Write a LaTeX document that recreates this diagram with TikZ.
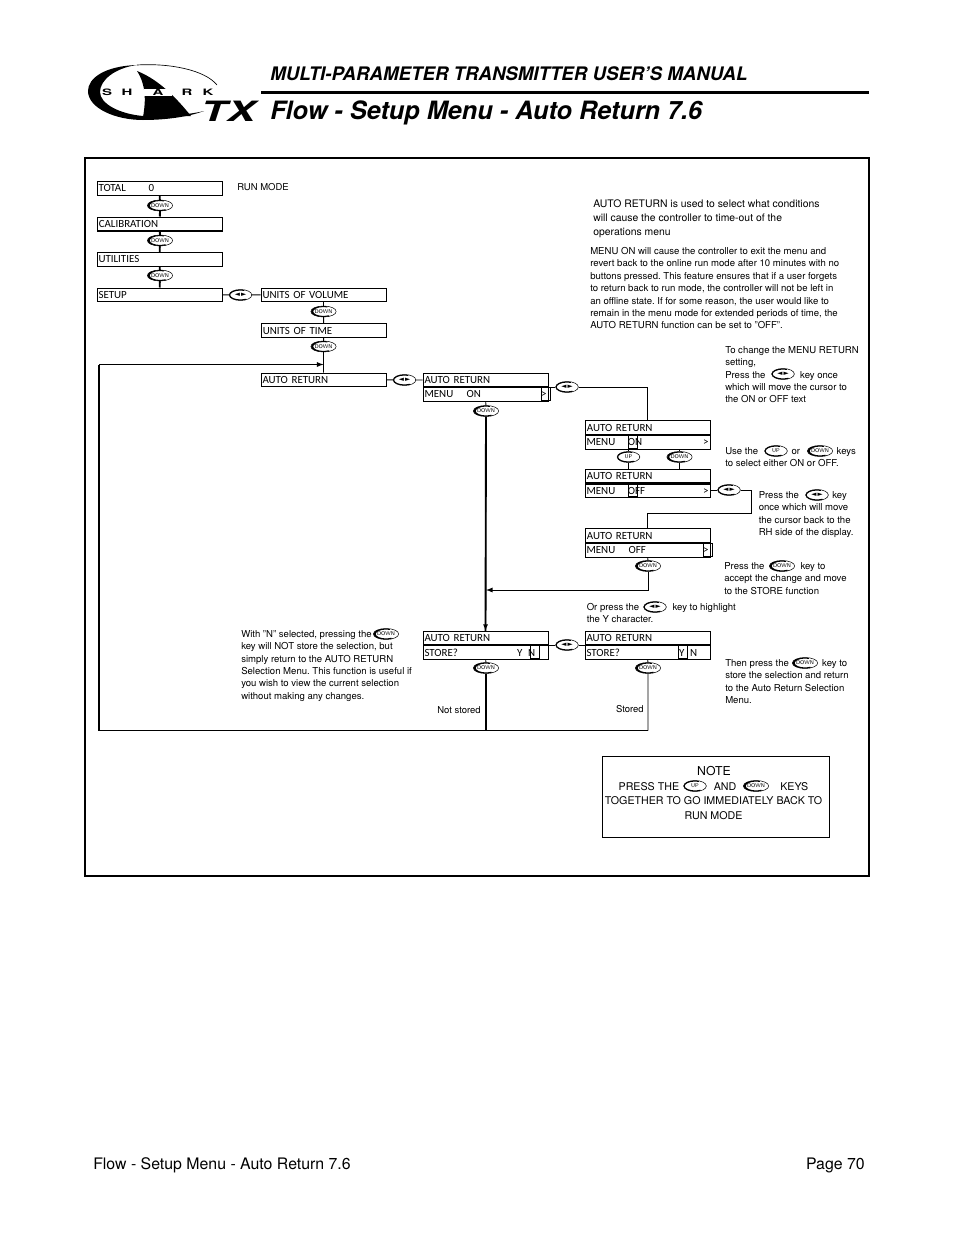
\documentclass[tikz,border=0pt]{standalone}
\usepackage{fontspec}
\setmainfont{TeX Gyre Heros}
\newfontfamily\boxfamily{Carlito}
\newfontfamily\symfamily{DejaVu Sans}
\usetikzlibrary{shapes.geometric, arrows, positioning}

\newcommand{\rowfont}{\fontsize{8.2}{8}\selectfont\boxfamily\setlength{\spaceskip}{0.14em}}

\tikzset{
  rowbox/.style={draw, fill=white, line width=0.6pt, anchor=north west, inner xsep=1.2pt, inner ysep=0pt,
    text width=91.5pt, minimum height=10.2pt, text height=6.8pt, text depth=1.3pt, font=\rowfont},
  heavybox/.style={rowbox, line width=1.1pt},
  cursorbox/.style={draw, line width=0.8pt, anchor=north west, inner sep=0pt, minimum width=6.8pt, minimum height=10pt},
  keynode/.style={ellipse, draw, fill=white, line width=0.4pt, inner sep=0pt, minimum width=17pt, minimum height=8.2pt,
    font=\fontsize{4.1}{4}\selectfont\sffamily,
    path picture={\draw[line width=1.5pt] (path picture bounding box.center) ++(70:8.5pt and 4.1pt) arc[start angle=70, end angle=300, x radius=8.5pt, y radius=4.1pt];}},
  arrowkey/.style={keynode, font=\fontsize{5}{5}\selectfont\symfamily},
  link/.style={line width=0.7pt},
  mainlink/.style={line width=1.4pt},
  helptext/.style={anchor=north west, inner sep=0pt, align=left, font=\fontsize{7.17}{9.3}\selectfont\frenchspacing},
  plaintext/.style={inner sep=0pt, font=\fontsize{7.1}{9}\selectfont},
  logoletter/.style={inner sep=0pt, font=\fontsize{6.6}{7}\selectfont\bfseries},
}

\begin{document}
\begin{tikzpicture}[x=0.75pt, y=-0.75pt]
\useasboundingbox (0,0) rectangle (954,1235);

% Logo
\fill (137,65) .. controls (105,66) and (88,78) .. (88,91) .. controls (88,108) and (115,120) .. (143,120)
  .. controls (165,120) and (188,117) .. (204,111) .. controls (188,115) and (165,116) .. (143,116)
  .. controls (120,114) and (100,104) .. (100,92) .. controls (100,80) and (115,68) .. (137,65) -- cycle;
\draw[line width=0.5pt] (137,65) .. controls (170,63) and (205,70) .. (217,85);
\fill (137,71) .. controls (160,80) and (178,100) .. (191,116) -- (143,117) .. controls (146,100) and (146,85) .. (137,71) -- cycle;
\fill[white] (144,89) rectangle (172,96);
\node[logoletter] (logos) at (107,92.5) {\scalebox{1.7}[1]{S}};
\node[logoletter] (logoh) at (127,92.5) {\scalebox{1.7}[1]{H}};
\node[logoletter] (logoa) at (158,92.5) {\scalebox{1.7}[1]{A}};
\node[logoletter] (logor) at (187,92.5) {\scalebox{1.7}[1]{R}};
\node[logoletter] (logok) at (208,92.5) {\scalebox{1.7}[1]{K}};
\node[inner sep=0pt, font=\fontsize{21}{21}\selectfont\bfseries\itshape] (logotx) at (228,111) {\scalebox{1.52}[1]{TX}};

% Header
\node[anchor=base west, inner sep=0pt, font=\fontsize{14}{16}\selectfont\bfseries\itshape] (manualname) at (270,80) {MULTI-PARAMETER TRANSMITTER USER’S MANUAL};
\draw[line width=2.3pt] (261,92.5) -- (869,92.5);
\node[anchor=base west, inner sep=0pt, font=\fontsize{18.95}{20}\selectfont\bfseries\itshape] (pagetitle) at (270,119) {Flow - Setup Menu - Auto Return 7.6};

% Frame
\draw[line width=1.2pt] (85,158) rectangle (869,876);

% Left column
\node[rowbox] (total) at (96.5,181) {TOTAL\hspace{17pt}0};
\node[heavybox] (calibration) at (96.5,216.5) {CALIBRATION};
\node[rowbox] (utilities) at (96.5,252) {UTILITIES};
\node[rowbox] (setup) at (96.5,287.5) {SETUP};
\node[plaintext, anchor=west] (runmode) at (237,187.5) {RUN MODE};
\node[keynode] (downa) at (160,205.5) {DOWN};
\node[keynode] (downb) at (160,240.5) {DOWN};
\node[keynode] (downc) at (160,275.5) {DOWN};
\draw[mainlink] (total) -- (downa) -- (calibration) -- (downb) -- (utilities) -- (downc) -- (setup);

% Second column
\node[rowbox] (volume) at (260.5,287.5) {UNITS OF VOLUME};
\node[heavybox] (time) at (260.5,323) {UNITS OF TIME};
\node[rowbox] (autoreturn) at (260.5,372.5) {AUTO RETURN};
\node[arrowkey] (setupkey) at (240.5,295) {◄\,►};
\node[keynode] (downd) at (323.5,311.5) {DOWN};
\node[keynode] (downe) at (323.5,346.5) {DOWN};
\coordinate (feedin) at (323.5,364.5);
\draw[link] (setup) -- (setupkey) -- (volume);
\draw[link] (volume) -- (downd) -- (time) -- (downe) -- (autoreturn);

% Menu on
\node[rowbox] (menutop) at (422.5,372.5) {AUTO RETURN};
\node[rowbox] (menuon) at (menutop.south west) {MENU\hspace{10pt}ON\hfill >};
\node[cursorbox] (menucursor) at (540.5,386.8) {};
\node[arrowkey] (autokey) at (404.5,380) {◄\,►};
\node[keynode] (downf) at (486,411) {DOWN};
\draw[link] (autoreturn) -- (autokey) -- (menutop.west |- autokey);

% Selecting
\node[heavybox] (selecttop) at (584.5,420) {AUTO RETURN};
\node[rowbox] (selecton) at (selecttop.south west) {MENU\hspace{9.5pt}ON\hfill >};
\node[cursorbox] (oncursor) at (627.5,434.3) {};
\node[heavybox] (changetop) at (584.5,468.5) {AUTO RETURN};
\node[rowbox] (selectoff) at (changetop.south west) {MENU\hspace{9.5pt}OFF\hfill >};
\node[cursorbox] (offcursor) at (627.5,483) {};
\node[heavybox] (offtop) at (584.5,528) {AUTO RETURN};
\node[rowbox] (menuoff) at (offtop.south west) {MENU\hspace{10pt}OFF\hfill >};
\node[cursorbox] (menuoffcursor) at (702.5,542.8) {};
\node[arrowkey] (menukey) at (567,387) {◄\,►};
\node[keynode] (upkey) at (628.5,457) {UP};
\node[keynode] (downg) at (679.5,457) {DOWN};
\node[arrowkey] (offkey) at (729,490) {◄\,►};
\node[keynode] (downh) at (648,566) {DOWN};
\coordinate (turnright) at (751,513);
\coordinate (mainjoin) at (486,590);
\draw[link] (menuon.east |- menukey) -- (menukey);
\draw[link] (menukey) -| (selecttop);
\draw[link] (selecton.south -| upkey) -- (upkey) -- (changetop.north -| upkey);
\draw[link] (selecton.south -| downg) -- (downg) -- (changetop.north -| downg);
\draw[link] (selectoff.east |- offkey) -- (offkey) -| (turnright) -| (offtop);
\draw[link] (menuoff) -- (downh);
\draw[link, -latex] (downh) |- (mainjoin);

% Store
\node[rowbox] (storetop) at (422.5,630.8) {AUTO RETURN};
\node[rowbox] (storeno) at (storetop.south west) {STORE?\hfill Y\hspace{4.2pt}N\hspace{7.2pt}\,};
\node[cursorbox] (nocursor) at (530.2,644.5) {};
\node[rowbox] (savetop) at (584.5,630.8) {AUTO RETURN};
\node[rowbox] (storeyes) at (savetop.south west) {STORE?\hfill Y\hspace{4.2pt}N\hspace{7.2pt}\,};
\node[cursorbox] (yescursor) at (678.3,644.5) {};
\node[arrowkey] (storekey) at (567,645) {◄\,►};
\node[keynode] (downi) at (486,668) {DOWN};
\node[keynode] (downj) at (648,668) {DOWN};
\coordinate (botright) at (648,730.5);
\coordinate (botmain) at (486,730.5);
\coordinate (botleft) at (99,730.5);
\node[plaintext, anchor=east] (notstored) at (481,710.5) {Not stored};
\node[plaintext, anchor=east] (stored) at (644,709.5) {Stored};
\draw[mainlink] (downf) -- (storetop);
\draw[link, -latex] (downf) -- (storetop);
\draw[link] (menuon) -- (downf);
\draw[link] (storetop.east |- storekey) -- (storekey) -- (savetop.west |- storekey);
\draw[link] (storeno) -- (downi);
\draw[mainlink] (downi) -- (botmain);
\draw[link] (storeyes) -- (downj) -- (botright);
\draw[link] (botright) -- (botleft);
\draw[mainlink] (botleft) -- (botleft |- feedin);
\draw[link, -latex] (botleft |- feedin) -- (feedin);

% Notes
\node[helptext, font=\fontsize{7.8}{10.85}\selectfont] (intro) at (593,199) {AUTO RETURN is used to select what conditions\\will cause the controller to time-out of the\\operations menu};
\node[helptext] (menuonnote) at (590,247) {MENU ON will cause the controller to exit the menu and\\revert back to the online run mode after 10 minutes with no\\buttons pressed. This feature ensures that if a user forgets\\to return back to run mode, the controller will not be left in\\an offline state. If for some reason, the user would like to\\remain in the menu mode for extended periods of time, the\\AUTO RETURN function can be set to "OFF".};
\node[helptext] (changenote) at (725,346) {To change the MENU RETURN\\setting,\\Press the\hspace{26pt}key once\\which will move the cursor to\\the ON or OFF text};
\node[arrowkey] (changekey) at (783,374) {◄\,►};
\node[helptext] (usenote) at (725,447) {Use the\hspace{25pt}or\hspace{27.5pt}keys\\to select either ON or OFF.};
\node[keynode] (useup) at (776,451) {UP};
\node[keynode] (usedown) at (820,451) {DOWN};
\node[helptext] (backnote) at (758.5,491) {Press the\hspace{25pt}key\\once which will move\\the cursor back to the\\RH side of the display.};
\node[arrowkey] (backkey) at (817,495) {◄\,►};
\node[helptext] (acceptnote) at (724,562) {Press the\hspace{27pt}key to\\accept the change and move\\to the STORE function};
\node[keynode] (acceptkey) at (782,566) {DOWN};
\node[helptext] (highlightnote) at (586.5,603) {Or press the\hspace{25pt}key to highlight\\the Y character.};
\node[arrowkey] (highlightkey) at (655,607) {◄\,►};
\node[helptext] (storenote) at (725,659) {Then press the\hspace{25pt}key to\\store the selection and return\\to the Auto Return Selection\\Menu.};
\node[keynode] (storedown) at (805,663) {DOWN};
\node[helptext] (nostorenote) at (241,630) {With "N" selected, pressing the\\key will NOT store the selection, but\\simply return to the AUTO RETURN\\Selection Menu. This function is useful if\\you wish to view the current selection\\without making any changes.};
\node[keynode] (nostoredown) at (386,634) {DOWN};

% Note box
\node[draw, line width=0.9pt, anchor=north west, inner sep=0pt, minimum width=170.25pt, minimum height=61pt] (notebox) at (602,755.5) {};
\node[inner sep=0pt, font=\fontsize{9.2}{10}\selectfont] (notehead) at (714,771) {NOTE};
\node[inner sep=0pt, align=center, font=\fontsize{8}{10.8}\selectfont] (notebody) at (713.5,801) {PRESS THE\hspace{26pt}AND\hspace{33pt}KEYS\\TOGETHER TO GO IMMEDIATELY BACK TO\\RUN MODE};
\node[keynode] (noteup) at (695,786) {UP};
\node[keynode] (notedown) at (756,786) {DOWN};

% Footer
\node[anchor=base west, inner sep=0pt, font=\fontsize{11.9}{12}\selectfont] (footleft) at (93,1169) {Flow - Setup Menu - Auto Return 7.6};
\node[anchor=base east, inner sep=0pt, font=\fontsize{11.9}{12}\selectfont] (footright) at (865,1169) {Page 70};
\end{tikzpicture}
\end{document}
